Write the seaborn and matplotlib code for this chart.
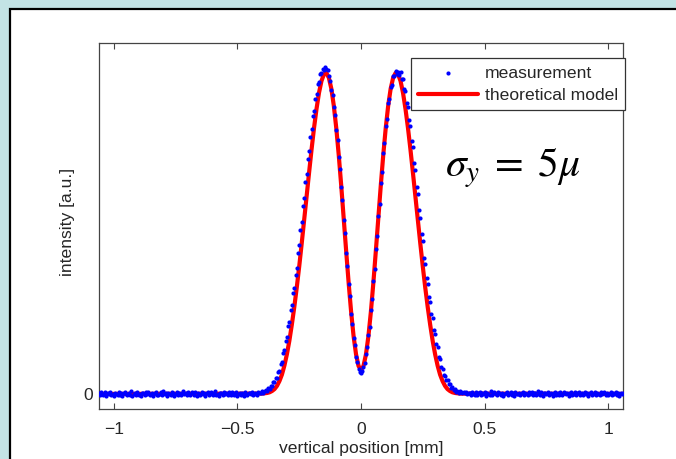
import numpy as np
import pandas as pd
import matplotlib
matplotlib.use("Agg")
import matplotlib.pyplot as plt
from matplotlib.patches import Rectangle
import seaborn as sns

# ---------------- data (intensity in thousandths of the peak) ----------------
x_ticks = [-1, -0.5, 0, 0.5, 1]
x_tick_labels = ["\u22121", "\u22120.5", "0", "0.5", "1"]
y_ticks = [0]
y_tick_labels = ["0"]

# theoretical model, sampled every 0.01 mm from -0.40 to 0.40 (plus flat ends)
model_x_inner = np.round(np.linspace(-0.40, 0.40, 81), 3)
model_y_inner = [1, 2, 3, 5, 9, 15, 25, 40, 60, 88,
                 123, 165, 215, 270, 331, 397, 468, 542, 616, 690,
                 762, 829, 888, 938, 975, 996, 1000, 985, 951, 898,
                 828, 744, 649, 547, 445, 346, 256, 180, 123, 87,
                 75,
                 87, 123, 180, 256, 346, 445, 547, 649, 744, 828,
                 898, 951, 985, 1000, 996, 975, 938, 888, 829, 762,
                 690, 616, 542, 468, 397, 331, 270, 215, 165, 123,
                 88, 60, 40, 25, 15, 9, 5, 3, 2, 1]
model_x_ends = [-1.06, 1.06]

# measurement, sampled every 0.005 mm from -1.06 to 1.06
meas_base_left = [3, -4, 6, -2, 0, 5, -6, 2, -1, 7, -3, 1,
                  -5, 4, 0, -2, 6, -4, 3, -7, 2, 5, -1, -3,
                  4, -2, 8, -5, 1, 3, -4, 6, -2, 0, -6, 4,
                  2, -3, 5, -1, 7, -4, 0, 3, -5, 2, 6, -2,
                  -4, 1, 5, -3, 9, -1, 2, -6, 4, 0, -2, 6,
                  3, -5, 1, 7, -2, 4, -4, 2, 8, -1, 3, -3,
                  5, 0, -4, 6, 2, -2, 7, -5, 3, 1, -3, 5,
                  -1, 4, -6, 2, 6, -2, 0, 5, -4, 3, 8, -2,
                  1, -5, 4, 2, -3, 6, -1, 3, -4, 7, 0, -2,
                  5, -3, 2, 6, -5, 1, 4, -2, 3, -6, 5, 0,
                  -3, 4, 2, -1, 6, -4, 3, 1, -2, 5, 2, 4]
meas_peak = [8, 4, 9, 12, 10, 17, 16, 25, 26, 37,
             38, 50, 51, 67, 71, 93, 101, 126, 136, 166,
             178, 211, 225, 260, 276, 313, 331, 372, 392, 438,
             463, 511, 537, 585, 611, 659, 685, 732, 757, 802,
             824, 865, 883, 920, 934, 966, 973, 996, 1000, 1012,
             1008, 1018, 1012, 1008, 992, 975, 947, 931, 893, 869,
             823, 792, 739, 702, 644, 603, 542, 501, 440, 400,
             341, 305, 250, 219, 174, 152, 116, 101, 78, 69,
             66,
             70, 85, 95, 124, 145, 183, 209, 261, 296,
             351, 390, 452, 491, 553, 593, 656, 691, 750, 782,
             834, 858, 905, 920, 957, 964, 991, 990, 1006, 996,
             1004, 994, 1002, 980, 981, 951, 945, 906, 895, 852,
             836, 789, 769, 720, 697, 646, 623, 572, 549, 498,
             475, 425, 404, 360, 342, 301, 286, 248, 235, 199,
             188, 155, 146, 116, 109, 84, 78, 60, 57, 43,
             44, 30, 30, 19, 21, 11, 14, 6, 10, 3,
             8]
meas_base_right = [6, 4, 7, 2, 5, -1, 4, 3, -2, 6, 1, -4,
                   5, -2, 3, 7, -3, 2, 0, 6, -5, 4, 1, -2,
                   8, -3, 2, 5, -1, -4, 6, 3, -2, 4, -6, 1,
                   3, 7, -2, 0, 5, -3, 2, -5, 6, 1, -1, 4,
                   -3, 2, 6, -4, 3, 0, -2, 7, -1, 5, -4, 2,
                   4, -3, 8, 1, -2, 5, -5, 3, 2, -1, 6, -3,
                   0, 4, -6, 2, 7, -2, 3, -4, 5, 1, -3, 6,
                   2, -1, 4, -5, 3, 6, -2, 0, 5, -3, 2, 7,
                   -4, 1, 3, -2, 6, -1, 4, -5, 2, 5, -3, 0,
                   6, -2, 3, 1, -4, 5, -1, 2, 7, -3, 4, -2,
                   1, 5, -4, 3, 0, 6, -2, 2, -5, 4, 1, 3]

meas_y_all = meas_base_left + meas_peak + meas_base_right
meas_x = np.round(np.linspace(-1.06, 1.06, len(meas_y_all)), 4)

model_df = pd.DataFrame({
    "x": [model_x_ends[0]] + list(model_x_inner) + [model_x_ends[1]],
    "y": np.array([0] + model_y_inner + [0]) / 1000.0,
})
meas_df = pd.DataFrame({"x": meas_x, "y": np.array(meas_y_all) / 1000.0})

# ---------------- styling ----------------
sns.set_theme(style="white")
plt.rcParams["font.family"] = ["Liberation Sans", "DejaVu Sans"]
plt.rcParams["mathtext.fontset"] = "stix"
text_color = "#262626"
fs = 12.6

W, H = 676, 459
fig = plt.figure(figsize=(W / 100, H / 100), dpi=100, facecolor="#c3e3e5")
panel = Rectangle((9.5 / W, -0.1), 1.2, 1.1 - 8.5 / H, transform=fig.transFigure,
                  facecolor="white", edgecolor="black", linewidth=1.6, zorder=-5)
fig.patches.append(panel)

ax = fig.add_axes([99 / W, 50 / H, 524 / W, 366.5 / H])
ax.set_facecolor("white")

sns.lineplot(data=model_df, x="x", y="y", color="red", linewidth=3.0,
             sort=False, estimator=None, ax=ax, label="theoretical model", zorder=2)
sns.scatterplot(data=meas_df, x="x", y="y", color="blue", s=9, linewidth=0,
                ax=ax, label="measurement", zorder=3)

ax.set_xlim(-1.06, 1.06)
ax.set_ylim(-0.047, 1.095)
ax.set_xticks(x_ticks)
ax.set_xticklabels(x_tick_labels)
ax.set_yticks(y_ticks)
ax.set_yticklabels(y_tick_labels)
ax.tick_params(axis="x", direction="in", top=True, bottom=True, length=4,
               width=0.8, color="#444444", labelsize=fs, labelcolor=text_color, pad=9)
ax.tick_params(axis="y", direction="in", left=True, right=False, length=4,
               width=0.8, color="#444444", labelsize=fs, labelcolor=text_color, pad=4)
for sp in ax.spines.values():
    sp.set_visible(True)
    sp.set_color("#444444")
    sp.set_linewidth(0.9)

ax.set_xlabel("vertical position [mm]", fontsize=fs, color=text_color)
ax.set_ylabel("intensity [a.u.]", fontsize=fs, color=text_color)
ax.xaxis.set_label_coords(0.5, -0.088)
ax.yaxis.set_label_coords(-0.045, 0.51)

handles, labels = ax.get_legend_handles_labels()
order = [labels.index("measurement"), labels.index("theoretical model")]
leg = ax.legend([handles[i] for i in order], [labels[i] for i in order],
                loc="upper right", bbox_to_anchor=(1.004, 0.9577), borderaxespad=0,
                fontsize=fs, frameon=True, fancybox=False, framealpha=1,
                edgecolor="#333333", handlelength=3.4, handletextpad=0.4,
                borderpad=0.42, labelspacing=0.4)
leg.get_frame().set_linewidth(0.9)
for t in leg.get_texts():
    t.set_color(text_color)

ax.text(0.79, 0.658, r"$\sigma_y\;=\;5\mu$", transform=ax.transAxes,
        fontsize=30, ha="center", va="center", color="black")

fig.savefig("out.png", dpi=100, facecolor=fig.get_facecolor())
